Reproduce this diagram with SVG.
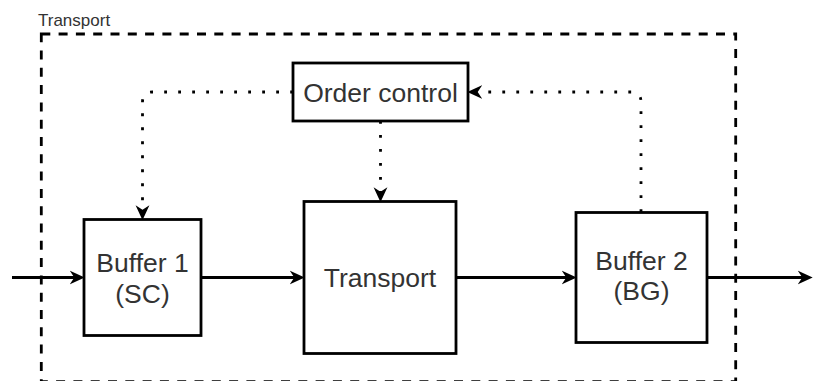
<svg xmlns="http://www.w3.org/2000/svg" width="813" height="381" viewBox="0 0 813 381">
<style>
.box{fill:#fff;stroke:#000;stroke-width:2.8}
.txt{font-family:"Liberation Sans",Arial,sans-serif;font-size:26.5px;fill:#333;text-anchor:middle}
.lbl{font-family:"Liberation Sans",Arial,sans-serif;font-size:17px;fill:#333}
.edge{fill:none;stroke:#000;stroke-width:2.8}
.dot{fill:none;stroke:#000;stroke-width:2.8;stroke-dasharray:2.8 11.2}
.cont{fill:none;stroke:#000;stroke-width:2.8;stroke-dasharray:9 8.3}
</style>
<defs>
<marker id="arr" markerUnits="userSpaceOnUse" markerWidth="15" markerHeight="15" viewBox="0 0 13 13" refX="8.5" refY="6.5" orient="auto">
<path d="M0,0.5 L13,6.5 L0,12.5 L4,6.5 Z" fill="#000" stroke="none"/>
</marker>
</defs>
<g id="container">
<rect class="cont" x="41.3" y="34" width="694.4" height="347.7"/>
<text class="lbl" x="38" y="25.5">Transport</text>
</g>
<g id="connectors">
<path class="edge" d="M12,277.5 H79.5" marker-end="url(#arr)"/>
<path class="edge" d="M201,277.5 H299.5" marker-end="url(#arr)"/>
<path class="edge" d="M456,277.5 H571.5" marker-end="url(#arr)"/>
<path class="edge" d="M707,277.5 H807.5" marker-end="url(#arr)"/>
<path class="dot" d="M293,92 H152.5 Q142.5,92 142.5,102 V215" marker-end="url(#arr)"/>
<path class="dot" d="M380.5,121 V197" marker-end="url(#arr)"/>
<path class="dot" d="M641,212 V102 Q641,92 631,92 H472.5" marker-end="url(#arr)"/>
</g>
<g id="order-control">
<rect class="box" x="293" y="63" width="175" height="58"/>
<text class="txt" x="380.5" y="101.5">Order control</text>
</g>
<g id="buffer1">
<rect class="box" x="84" y="219.5" width="117" height="116"/>
<text class="txt" x="142.5" y="271.5">Buffer 1</text>
<text class="txt" x="142.5" y="302.5">(SC)</text>
</g>
<g id="transport">
<rect class="box" x="304" y="201.5" width="152" height="152"/>
<text class="txt" x="380" y="286.5">Transport</text>
</g>
<g id="buffer2">
<rect class="box" x="576" y="212.5" width="131" height="130"/>
<text class="txt" x="641.5" y="270">Buffer 2</text>
<text class="txt" x="641.5" y="300">(BG)</text>
</g>
</svg>
